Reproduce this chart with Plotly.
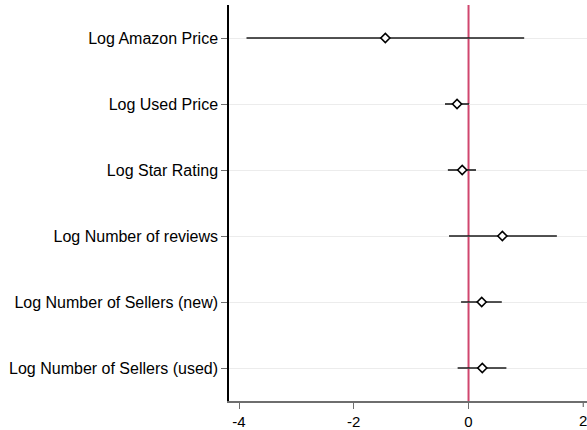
import plotly.graph_objects as go

labels = ["Log Amazon Price", "Log Used Price", "Log Star Rating",
          "Log Number of reviews", "Log Number of Sellers (new)",
          "Log Number of Sellers (used)"]
coef = [-1.45, -0.20, -0.11, 0.59, 0.23, 0.24]
ci_low = [-3.87, -0.41, -0.36, -0.34, -0.13, -0.19]
ci_high = [0.97, 0.01, 0.13, 1.54, 0.58, 0.66]
xticks = [-4, -2, 0, 2]

pos = list(range(1, len(labels) + 1))

fig = go.Figure()

# confidence interval lines
for p, lo, hi in zip(pos, ci_low, ci_high):
    fig.add_trace(go.Scatter(x=[lo, hi], y=[p, p], mode="lines",
                             line=dict(color="#1a1a1a", width=1.6),
                             showlegend=False, hoverinfo="skip"))

fig.add_trace(go.Scatter(x=coef, y=pos, mode="markers",
                         marker=dict(symbol="diamond", size=7, color="white",
                                     line=dict(color="black", width=1.6)),
                         showlegend=False))

fig.add_vline(x=0, line=dict(color="#d0466e", width=2), layer="below")

# the last tick label sits at the edge of the page; draw it explicitly
fig.add_annotation(x=xticks[-1], y=0, xref="x", yref="paper", yanchor="top",
                   yshift=-9, text=str(xticks[-1]), showarrow=False,
                   font=dict(size=15, color="black"))

fig.update_layout(
    width=587, height=430,
    margin=dict(l=229, r=0, t=5, b=27),
    paper_bgcolor="white", plot_bgcolor="white",
    font=dict(family="Liberation Sans, Arial, sans-serif", size=16, color="black"),
    xaxis=dict(range=[-4.175, 2.065], tickvals=xticks[:-1],
               ticktext=[str(t) for t in xticks[:-1]],
               tickfont=dict(size=15),
               showgrid=False, zeroline=False,
               showline=True, linecolor="#6e6e6e", linewidth=1.5,
               ticks="outside", ticklen=6, tickcolor="#6e6e6e", tickwidth=1.2),
    yaxis=dict(range=[6.5, 0.5], tickvals=pos, ticktext=labels,
               showgrid=True, gridcolor="#ececec", gridwidth=1,
               zeroline=False,
               showline=True, linecolor="black", linewidth=1.5,
               ticks="outside", ticklen=6, tickcolor="#6e6e6e", tickwidth=1.2),
)
fig.add_shape(type="line", x0=xticks[-1], x1=xticks[-1], xref="x",
              y0=0, y1=-0.015, yref="paper",
              line=dict(color="#6e6e6e", width=1.2))

fig.write_html("out.html")
